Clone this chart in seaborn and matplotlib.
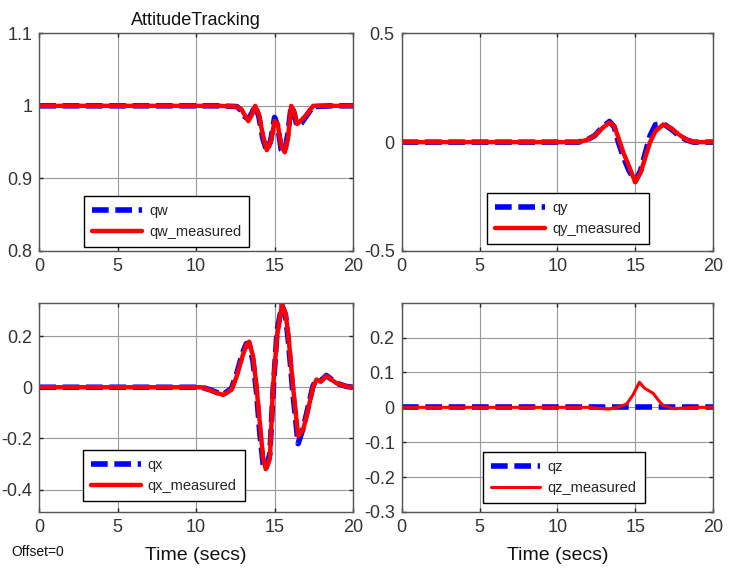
import numpy as np
import pandas as pd
import matplotlib
matplotlib.use("Agg")
import matplotlib.pyplot as plt
import seaborn as sns

# ---- data (time in secs) ----
qw_t = [0, 11.45, 12.6, 12.9, 13.1, 13.33, 13.55, 13.76, 14.0, 14.25, 14.5, 14.75, 15.0, 15.2, 15.42, 15.65, 15.85, 16.06, 16.25, 16.43, 16.7, 17.0, 17.25, 17.46, 18.6, 20]
qw = [1.0, 1.0, 0.999, 0.993, 0.985, 0.982, 0.99, 1.0, 0.985, 0.955, 0.938, 0.952, 0.984, 0.972, 0.94, 0.937, 0.962, 1.0, 0.99, 0.972, 0.976, 0.985, 0.993, 0.999, 1.0, 1.0]
qw_meas = [1.0, 1.0, 0.999, 0.995, 0.987, 0.979, 0.988, 1.0, 0.988, 0.96, 0.939, 0.95, 0.979, 0.975, 0.945, 0.936, 0.955, 1.0, 0.992, 0.975, 0.98, 0.987, 0.994, 1.0, 1.0, 1.0]

qy_t = [0, 11.35, 11.9, 12.4, 12.9, 13.35, 13.65, 13.92, 14.25, 14.6, 15.0, 15.35, 15.65, 15.96, 16.3, 16.8, 17.3, 17.8, 18.3, 18.74, 20]
qy = [0.0, 0.0, 0.01, 0.03, 0.07, 0.095, 0.07, 0.0, -0.07, -0.13, -0.18, -0.13, -0.05, 0.03, 0.08, 0.085, 0.06, 0.03, 0.01, 0.0, 0.0]
qy_meas = [0.0, 0.0, 0.01, 0.03, 0.065, 0.09, 0.075, 0.02, -0.05, -0.11, -0.184, -0.14, -0.07, 0.0, 0.05, 0.081, 0.065, 0.035, 0.012, 0.0, 0.0]

qx_t = [0, 10.33, 10.9, 11.3, 11.72, 12.25, 12.57, 12.8, 13.0, 13.2, 13.38, 13.63, 13.85, 14.06, 14.27, 14.44, 14.7, 14.9, 15.16, 15.47, 15.7, 15.88, 16.18, 16.5, 16.82, 17.13, 17.45, 17.67, 17.95, 18.3, 18.94, 19.58, 20]
qx = [0.0, 0.0, -0.01, -0.02, -0.028, -0.005, 0.05, 0.1, 0.14, 0.17, 0.17, 0.1, -0.02, -0.18, -0.3, -0.32, -0.26, -0.02, 0.22, 0.32, 0.28, 0.18, -0.03, -0.22, -0.16, -0.08, 0.005, 0.03, 0.025, 0.046, 0.016, 0.003, 0.0]
qx_meas = [0.0, 0.0, -0.012, -0.022, -0.03, -0.01, 0.04, 0.09, 0.13, 0.165, 0.178, 0.12, 0.0, -0.14, -0.28, -0.32, -0.28, 0.0, 0.2, 0.321, 0.29, 0.2, 0.0, -0.19, -0.166, -0.09, 0.0, 0.03, 0.022, 0.044, 0.016, 0.003, 0.0]

qz_t = [0, 12.0, 13.28, 14.0, 14.46, 14.85, 15.27, 15.6, 16.16, 16.5, 16.8, 17.55, 18.3, 18.83, 20]
qz = [0.0] * len(qz_t)
qz_meas = [0.0, 0.0, -0.005, 0.002, 0.01, 0.035, 0.072, 0.055, 0.04, 0.02, 0.005, -0.004, -0.001, 0.0, 0.0]

panels = [
    ("qw", qw_t, qw, qw_meas, (0.8, 1.1), [0.8, 0.9, 1.0, 1.1], ["0.8", "0.9", "1", "1.1"], (0.1425, 0.018)),
    ("qy", qy_t, qy, qy_meas, (-0.5, 0.5), [-0.5, 0, 0.5], ["-0.5", "0", "0.5"], (0.274, 0.032)),
    ("qx", qx_t, qx, qx_meas, (-0.487, 0.33), [-0.4, -0.2, 0, 0.2], ["-0.4", "-0.2", "0", "0.2"], (0.139, 0.054)),
    ("qz", qz_t, qz, qz_meas, (-0.3, 0.3), [-0.3, -0.2, -0.1, 0, 0.1, 0.2], ["-0.3", "-0.2", "-0.1", "0", "0.1", "0.2"], (0.26, 0.043)),
]

sns.set_style("whitegrid")
plt.rcParams["font.family"] = ["Liberation Sans", "DejaVu Sans"]

fig = plt.figure(figsize=(7.31, 5.69), dpi=100)
rects = [
    [0.0538, 0.5589, 0.4291, 0.3826],
    [0.5495, 0.5589, 0.4259, 0.3826],
    [0.0538, 0.1002, 0.4291, 0.3678],
    [0.5495, 0.1002, 0.4259, 0.3678],
]

for rect, (name, t, ref, meas, ylim, yt, ytl, legpos) in zip(rects, panels):
    ax = fig.add_axes(rect)
    df = pd.DataFrame({"t": t, "ref": ref, "meas": meas})
    sns.lineplot(data=df, x="t", y="ref", ax=ax, color="#0000ff", lw=4,
                 linestyle=(0, (3, 1.2)), label=name)
    sns.lineplot(data=df, x="t", y="meas", ax=ax, color="#ff0000",
                 lw=2.2 if name == "qz" else 3.2, label=name + "_measured")
    ax.set_xlim(0, 20)
    ax.set_ylim(*ylim)
    ax.set_xticks([0, 5, 10, 15, 20])
    ax.set_xticklabels(["0", "5", "10", "15", "20"])
    ax.set_yticks(yt)
    ax.set_yticklabels(ytl)
    ax.set_xlabel("")
    ax.set_ylabel("")
    ax.grid(True, color="#999999", lw=0.8)
    for s in ax.spines.values():
        s.set_color("#555555")
        s.set_linewidth(1.0)
    ax.tick_params(labelsize=13, labelcolor="#333333", color="#222222",
                   direction="in", length=3, width=1, pad=5,
                   top=True, right=True, bottom=True, left=True)
    leg = ax.legend(loc="lower left", bbox_to_anchor=legpos, borderaxespad=0,
                    fontsize=10.5, handlelength=3.4, handletextpad=0.5,
                    fancybox=False, framealpha=1, edgecolor="black",
                    borderpad=0.55, labelspacing=0.45)
    leg.get_frame().set_linewidth(1.0)
    if name == "qw":
        ax.set_title("AttitudeTracking", fontsize=13, color="#111111", pad=6)
    if name in ("qx", "qz"):
        ax.set_xlabel("Time (secs)", fontsize=14, color="#111111", labelpad=8)

fig.text(0.016, 0.022, "Offset=0", fontsize=10, color="#111111")

fig.savefig("out.png", dpi=100)
